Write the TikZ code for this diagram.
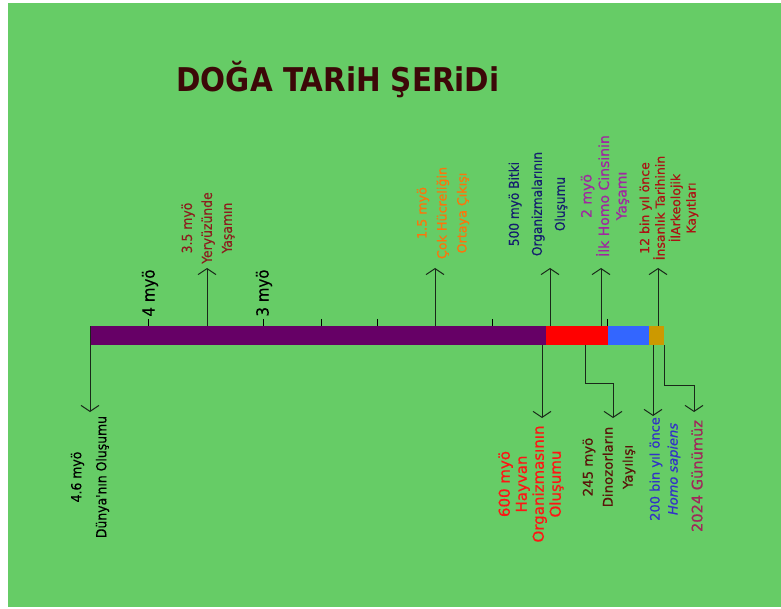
\documentclass[tikz,border=0pt]{standalone}
\usepackage{fontspec}
\setmainfont{DejaVu Sans}[FakeBold=0.6]
\newfontfamily\titlefont{DejaVu Sans Condensed}
\newfontfamily\narrowfont{DejaVu Sans Condensed}[FakeBold=0.3]
\usetikzlibrary{arrows.meta}
\definecolor{bg}{RGB}{102,204,102}
\definecolor{barpurple}{RGB}{102,0,102}
\definecolor{barred}{RGB}{255,0,0}
\definecolor{barblue}{RGB}{51,102,255}
\definecolor{barorange}{RGB}{204,153,0}
\definecolor{titlecol}{RGB}{60,8,8}
\definecolor{cDarkRed}{RGB}{140,30,30}
\definecolor{cOrange}{RGB}{255,115,10}
\definecolor{cNavy}{RGB}{20,30,110}
\definecolor{cPurple}{RGB}{160,40,160}
\definecolor{cRedBrown}{RGB}{170,20,20}
\definecolor{cRed}{RGB}{255,20,20}
\definecolor{cBrown}{RGB}{90,20,10}
\definecolor{cBlue}{RGB}{50,50,200}
\definecolor{cWine}{RGB}{160,40,90}
\definecolor{linecol}{RGB}{25,40,25}
\tikzset{
  lbl/.style={rotate=90, align=center, inner sep=0pt},
  conn/.style={draw=linecol, line width=1pt, -{Straight Barb[length=6pt,width=18pt]}},
  tick/.style={draw=black, line width=0.9pt},
}
\newcommand{\fs}[2]{\fontsize{#1}{#2}\selectfont}
\begin{document}
\begin{tikzpicture}[x=1pt,y=-1pt]
\useasboundingbox (0,0) rectangle (781,609);
\fill[white] (0,0) rectangle (781,609);
\fill[bg] (8,3) rectangle (781,607);

% title
\node[text=titlecol, inner sep=0pt] (title) at (338,80)
  {\resizebox{323pt}{!}{\titlefont\bfseries\fs{30}{32}DOĞA TARiH ŞERiDi}};

% bar
\fill[barpurple] (90,326) rectangle (546,345);
\fill[barred] (546,326) rectangle (608,345);
\fill[barblue] (608,326) rectangle (649,345);
\fill[barorange] (649,326) rectangle (664,345);

% ticks
\foreach \x/\n in {148/a,263/b,321/c,377/d,492/e,607/f}{
  \coordinate (t\n) at (\x,319);
  \coordinate (b\n) at (\x,326);
  \draw[tick] (t\n) -- (b\n);
}

% tick labels
\node[lbl, font=\narrowfont\fs{16.7}{18}] (m4) at (150,293) {4 myö};
\node[lbl, font=\narrowfont\fs{16.7}{18}] (m3) at (264,293) {3 myö};

% up arrows
\coordinate (u35s) at (207,326);  \coordinate (u35e) at (207,268);
\coordinate (u15s) at (435,326);  \coordinate (u15e) at (435,268);
\coordinate (u500s) at (550,326); \coordinate (u500e) at (550,268);
\coordinate (u2s) at (601,326);   \coordinate (u2e) at (601,268);
\coordinate (u12s) at (658,326);  \coordinate (u12e) at (658,268);
\draw[conn] (u35s) -- (u35e);
\draw[conn] (u15s) -- (u15e);
\draw[conn] (u500s) -- (u500e);
\draw[conn] (u2s) -- (u2e);
\draw[conn] (u12s) -- (u12e);

% down arrows
\coordinate (d46s) at (90,326);   \coordinate (d46e) at (90,412);
\coordinate (d600s) at (542,345); \coordinate (d600e) at (542,418);
\coordinate (d245s) at (585,345); \coordinate (d245a) at (585,383);
\coordinate (d245b) at (613,383); \coordinate (d245e) at (613,418);
\coordinate (d200s) at (653,345); \coordinate (d200e) at (653,416);
\coordinate (d24s) at (664,345);  \coordinate (d24a) at (664,385);
\coordinate (d24b) at (694,385);  \coordinate (d24e) at (694,412);
\draw[conn] (d46s) -- (d46e);
\draw[conn] (d600s) -- (d600e);
\draw[conn] (d245s) -- (d245a) -- (d245b) -- (d245e);
\draw[conn] (d200s) -- (d200e);
\draw[conn] (d24s) -- (d24a) -- (d24b) -- (d24e);

% upper labels
\node[lbl, text=cDarkRed, font=\narrowfont\fs{13.8}{20}] (l35) at (208,228)
  {3.5 myö\\Yeryüzünde\\Yaşamın};
\node[lbl, text=cOrange, font=\fs{12.7}{20}] (l15) at (443,213)
  {1.5 myö\\Çok Hücreliğin\\Ortaya Çıkışı};
\node[lbl, text=cNavy, font=\narrowfont\fs{13.5}{23}] (l500) at (538,204)
  {500 myö Bitki\\Organizmalarının\\Oluşumu};
\node[lbl, text=cPurple, font=\fs{14}{17.5}] (l2) at (605,196)
  {2 myö\\İlk Homo Cinsinin\\Yaşamı};
\node[lbl, text=cRedBrown, font=\fs{12.5}{15.5}] (l12) at (669,208)
  {12 bin yıl önce\\İnsanlık Tarihinin\\İlArkeolojik\\Kayıtları};

% lower labels
\node[lbl, text=black, font=\narrowfont\fs{13.8}{25}] (l46) at (90,477)
  {4.6 myö\\Dünya'nın Oluşumu};
\node[lbl, text=cRed, font=\fs{15}{17}] (l600) at (531,484)
  {600 myö\\Hayvan\\Organizmasının\\Oluşumu};
\node[lbl, text=cBrown, font=\fs{13.3}{20}] (l245) at (609,467)
  {245 myö\\Dinozorların\\Yayılışı};
\node[lbl, text=cBlue, font=\fs{13}{18}] (l200) at (665,469)
  {200 bin yıl önce\\\textit{Homo sapiens}};
\node[lbl, text=cWine, font=\fs{14.6}{18}] (l2024) at (697,476)
  {2024 Günümüz};
\end{tikzpicture}
\end{document}
